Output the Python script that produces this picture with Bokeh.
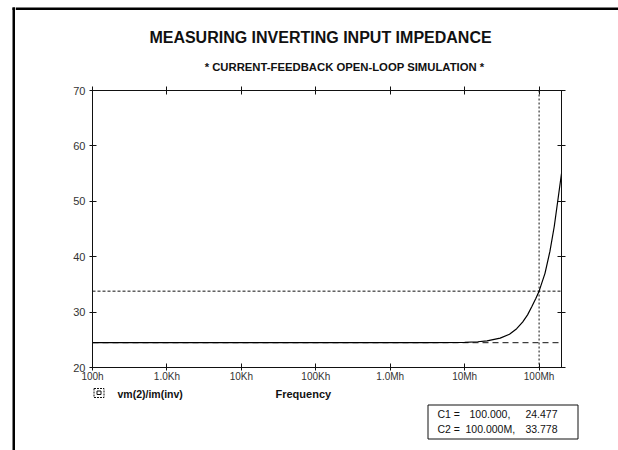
from bokeh.plotting import figure
from bokeh.layouts import row, column
from bokeh.models import (LogAxis, LinearAxis, Span, FixedTicker,
                          CustomJSTickFormatter, Range1d)
from bokeh.core.properties import value
from bokeh.embed import file_html
from bokeh.resources import INLINE

# ---- data ----
freq = [1e2, 1e3, 1e4, 1e5, 1e6, 3e6, 1e7, 1.5e7, 2e7, 3e7, 4e7, 5e7, 6e7,
        7e7, 8e7, 9e7, 1e8, 1.2e8, 1.4e8, 1.6e8, 1.8e8, 2e8]
zin = [24.477, 24.477, 24.477, 24.477, 24.48, 24.49, 24.55, 24.65, 24.8, 25.3,
       26.0, 27.0, 28.2, 29.5, 31.0, 32.4, 33.778, 37.0, 41.0, 45.5, 50.5, 55.0]

x_ticks = [1e2, 1e3, 1e4, 1e5, 1e6, 1e7, 1e8]
x_labels = ["100h", "1.0Kh", "10Kh", "100Kh", "1.0Mh", "10Mh", "100Mh"]
y_ticks = [20, 30, 40, 50, 60, 70]

c1 = (100.0, 24.477)
c2 = (100.0e6, 33.778)
c1_text = ["C1 =", "100.000,", "24.477"]
c2_text = ["C2 =", "100.000M,", "33.778"]

title_text = "MEASURING INVERTING INPUT IMPEDANCE"
subtitle_text = "* CURRENT-FEEDBACK OPEN-LOOP SIMULATION *"
trace_name = "vm(2)/im(inv)"
x_name = "Frequency"

FONT = "Liberation Sans"
INK = "#111111"
W, H = 618, 450
STRIP = 15          # width of the left strip that carries the page frame line
TOP_H = 75          # height of the title band
MAIN_H = 312        # height of the chart figure
BOT_H = H - TOP_H - MAIN_H


def blank(width, height, x0, x1, y0, y1):
    """Helper canvas in page-pixel coordinates (y grows downwards)."""
    f = figure(width=width, height=height, x_range=Range1d(x0, x1),
               y_range=Range1d(y1, y0), output_backend="svg",
               toolbar_location=None, x_axis_location=None,
               y_axis_location=None, min_border=0, frame_align=False)
    f.outline_line_color = None
    f.grid.visible = False
    return f


def txt(f, x, y, s, size, bold=False, align="left", font=FONT):
    f.text(x=[x], y=[y], text=[s], text_font=value(font),
           text_font_size=size, text_font_style="bold" if bold else "normal",
           text_align=align, text_baseline="middle", text_color=INK)


# ---- left strip: page frame line ----
strip = blank(STRIP, H, 0, STRIP, 0, H)
strip.quad(left=[12], right=[14.5], top=[7], bottom=[H], fill_color="black",
           line_color=None)
strip.quad(left=[12], right=[STRIP], top=[7], bottom=[9.5], fill_color="black",
           line_color=None)

# ---- title band ----
top_band = blank(W - STRIP, TOP_H, STRIP, W, 0, TOP_H)
top_band.quad(left=[STRIP], right=[W], top=[7], bottom=[9.5],
              fill_color="black", line_color=None)
txt(top_band, 320, 37, title_text, "16px", bold=True, align="center")
txt(top_band, 344, 66, subtitle_text, "11.3px", bold=True, align="center")

# ---- main chart ----
p = figure(width=W - STRIP, height=MAIN_H, x_axis_type="log",
           x_range=Range1d(1e2, 2e8), y_range=Range1d(20, 70),
           output_backend="svg", toolbar_location=None, frame_align=False,
           min_border_left=92 - STRIP, min_border_right=W - 561,
           min_border_top=90 - TOP_H, min_border_bottom=MAIN_H - (367 - 90) - 15)
p.outline_line_color = None
p.grid.visible = False

fmt = CustomJSTickFormatter(args=dict(xt=x_ticks, xl=x_labels), code="""
const i = xt.findIndex(t => Math.abs(Math.log10(t) - Math.log10(tick)) < 1e-6);
return i >= 0 ? xl[i] : "";
""")


def style_axis(ax, show_labels, size="10px", standoff=2, tick_out=4):
    ax.axis_line_color = INK
    ax.axis_line_width = 1
    ax.major_tick_line_color = INK
    ax.major_tick_in = 4
    ax.major_tick_out = tick_out
    ax.minor_tick_line_color = None
    ax.major_label_text_font = FONT
    ax.major_label_text_font_size = size
    ax.major_label_text_color = "#333333" if show_labels else None
    ax.major_label_standoff = standoff


xa = p.xaxis[0]
xa.ticker = FixedTicker(ticks=x_ticks)
xa.formatter = fmt
style_axis(xa, True, size="10px", standoff=0, tick_out=3)

ya = p.yaxis[0]
ya.ticker = FixedTicker(ticks=y_ticks)
style_axis(ya, True, size="11px", standoff=4, tick_out=3)

top_ax = LogAxis(ticker=FixedTicker(ticks=x_ticks), formatter=fmt)
style_axis(top_ax, False)
p.add_layout(top_ax, "above")

right_ax = LinearAxis(ticker=FixedTicker(ticks=y_ticks))
style_axis(right_ax, False)
p.add_layout(right_ax, "right")

# cursor lines
p.add_layout(Span(location=c2[0], dimension="height", line_color=INK,
                  line_dash="2 2", line_width=1, level="underlay"))
p.add_layout(Span(location=c2[1], dimension="width", line_color=INK,
                  line_dash="3 2", line_width=1, level="underlay"))
p.add_layout(Span(location=c1[1], dimension="width", line_color=INK,
                  line_dash="6 4", line_width=1, level="underlay"))

# trace
p.line(freq, zin, line_color="black", line_width=1.2)

# ---- bottom band: legend entry, x name, cursor readout ----
y0 = TOP_H + MAIN_H
bot = blank(W - STRIP, BOT_H, STRIP, W, y0, H)
# legend symbol: dashed box with a small square inside
bot.quad(left=[93.5], right=[103.5], top=[388], bottom=[397], fill_color=None,
         line_color=INK, line_width=1, line_dash="2 1")
bot.quad(left=[96.5], right=[100.5], top=[390.5], bottom=[394], fill_color=None,
         line_color=INK, line_width=1)
txt(bot, 117, 393, trace_name, "10.5px", bold=True)
txt(bot, 275, 393, x_name, "11px", bold=True)

bot.quad(left=[427.5], right=[577.5], top=[404.5], bottom=[438.5],
         fill_color="white", line_color=INK, line_width=1)
for r, yy, xm in ((c1_text, 413, 469), (c2_text, 428, 465)):
    txt(bot, 437, yy, r[0], "10.5px")
    txt(bot, xm, yy, r[1], "10.5px")
    txt(bot, 557, yy, r[2], "10.5px", align="right")

layout = row(strip, column(top_band, p, bot, spacing=0), spacing=0)
open("out.html", "w").write(file_html(layout, INLINE))
